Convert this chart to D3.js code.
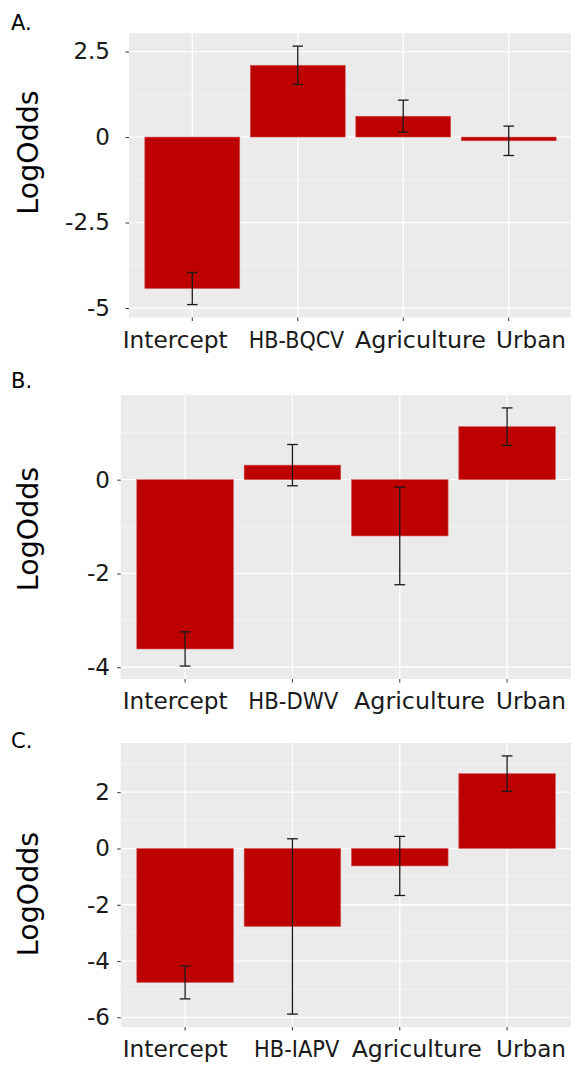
<!DOCTYPE html>
<html>
<head>
<meta charset="utf-8">
<script src="https://cdn.jsdelivr.net/npm/d3@7"></script>
<style>
  html, body { margin: 0; padding: 0; background: #fff; }
  svg { display: block; font-family: "DejaVu Sans", sans-serif; }
</style>
</head>
<body>
<svg id="chart" width="571" height="1065"></svg>
<script>
// Model terms (second term is the virus predictor of each model)
const panelTags = ["A.", "B.", "C."];
const virusTerms = ["HB-BQCV", "HB-DWV", "HB-IAPV"];
const sharedTerms = ["Intercept", null, "Agriculture", "Urban"];

// Log-odds estimates and their error half-widths, one pair per model
const estimatesA = [-4.43, 2.10, 0.61, -0.11];
const errorsA    = [0.47, 0.56, 0.47, 0.43];
const estimatesB = [-3.61, 0.31, -1.20, 1.13];
const errorsB    = [0.365, 0.44, 1.04, 0.40];
const estimatesC = [-4.76, -2.77, -0.62, 2.66];
const errorsC    = [0.585, 3.115, 1.05, 0.63];

// Axis breaks
const majorTicksA = [-5, -2.5, 0, 2.5];
const minorTicksA = [-3.75, -1.25, 1.25];
const majorTicksB = [-4, -2, 0];
const minorTicksB = [-3, -1, 1];
const majorTicksC = [-6, -4, -2, 0, 2];
const minorTicksC = [-5, -3, -1, 1, 3];

// Panel geometry and category-label placement (centre x, rendered width)
const panels = [
  { tag: panelTags[0], est: estimatesA, err: errorsA, major: majorTicksA, minor: minorTicksA, virus: virusTerms[0],
    box: { top: 33.2, bottom: 317.5, left: 129, right: 572 }, tagBase: 30, titleY: 152.5,
    labelX: [175.2, 296.5, 420.5, 531], labelW: [105, 95.5, 131, 70] },
  { tag: panelTags[1], est: estimatesB, err: errorsB, major: majorTicksB, minor: minorTicksB, virus: virusTerms[1],
    box: { top: 395, bottom: 679, left: 120.7, right: 571.5 }, tagBase: 388, titleY: 529,
    labelX: [175.2, 293.3, 419.5, 531], labelW: [105, 90, 131, 70] },
  { tag: panelTags[2], est: estimatesC, err: errorsC, major: majorTicksC, minor: minorTicksC, virus: virusTerms[2],
    box: { top: 743, bottom: 1027, left: 120.7, right: 571.5 }, tagBase: 748, titleY: 894,
    labelX: [175.2, 296.7, 416.7, 531], labelW: [105, 85.3, 130, 70] }
];

const svg = d3.select("#chart");
const barFill = "#bd0000";
const textCol = "#1a1a1a";

panels.forEach(p => {
  const terms = sharedTerms.map(t => t === null ? p.virus : t);
  const rows = terms.map((t, i) => ({ term: t, est: p.est[i], lo: p.est[i] - p.err[i], hi: p.est[i] + p.err[i] }));

  // y domain: data extent (including zero) with 5% padding on each side
  const lo = d3.min(rows, d => Math.min(d.lo, d.est, 0));
  const hi = d3.max(rows, d => Math.max(d.hi, d.est, 0));
  const pad = (hi - lo) * 0.05;
  const y = d3.scaleLinear().domain([lo - pad, hi + pad]).range([p.box.bottom, p.box.top]);
  const x = d3.scaleBand().domain(terms).range([p.box.left, p.box.right])
    .paddingInner(0.1).paddingOuter(0.15);
  const cx = t => x(t) + x.bandwidth() / 2;

  const g = svg.append("g");

  // panel background
  g.append("rect")
    .attr("x", p.box.left).attr("y", p.box.top)
    .attr("width", p.box.right - p.box.left).attr("height", p.box.bottom - p.box.top)
    .attr("fill", "#ebebeb");

  // minor and major grid
  g.selectAll(".minor").data(p.minor.filter(v => y(v) > p.box.top && y(v) < p.box.bottom)).join("line")
    .attr("x1", p.box.left).attr("x2", p.box.right)
    .attr("y1", d => y(d)).attr("y2", d => y(d))
    .attr("stroke", "#f7f7f7").attr("stroke-width", 0.7);
  g.selectAll(".major").data(p.major).join("line")
    .attr("x1", p.box.left).attr("x2", p.box.right)
    .attr("y1", d => y(d)).attr("y2", d => y(d))
    .attr("stroke", "#ffffff").attr("stroke-width", 1.3);
  g.selectAll(".vgrid").data(terms).join("line")
    .attr("x1", d => cx(d)).attr("x2", d => cx(d))
    .attr("y1", p.box.top).attr("y2", p.box.bottom)
    .attr("stroke", "#ffffff").attr("stroke-width", 1.3);

  // bars from zero to each estimate
  g.selectAll(".bar").data(rows).join("rect")
    .attr("x", d => x(d.term))
    .attr("width", x.bandwidth())
    .attr("y", d => Math.min(y(0), y(d.est)))
    .attr("height", d => Math.max(Math.abs(y(0) - y(d.est)), 0.5))
    .attr("fill", barFill)
    .attr("stroke", "#d55a5a").attr("stroke-width", 0.6);

  // error bars
  const capHalf = x.step() * 0.05;
  const eb = g.selectAll(".eb").data(rows).join("g")
    .attr("stroke", "#1a1a1a").attr("stroke-width", 1.3);
  eb.append("line")
    .attr("x1", d => cx(d.term)).attr("x2", d => cx(d.term))
    .attr("y1", d => y(d.hi)).attr("y2", d => y(d.lo));
  eb.append("line")
    .attr("x1", d => cx(d.term) - capHalf).attr("x2", d => cx(d.term) + capHalf)
    .attr("y1", d => y(d.hi)).attr("y2", d => y(d.hi));
  eb.append("line")
    .attr("x1", d => cx(d.term) - capHalf).attr("x2", d => cx(d.term) + capHalf)
    .attr("y1", d => y(d.lo)).attr("y2", d => y(d.lo));

  // y axis
  const yAxis = d3.axisLeft(y).tickValues(p.major).tickSize(3.5).tickPadding(15).tickFormat(d => String(d));
  const ya = g.append("g").attr("transform", `translate(${p.box.left},0)`).call(yAxis);
  ya.select(".domain").remove();
  ya.selectAll(".tick line").attr("stroke", "#333").attr("stroke-width", 1);
  ya.selectAll(".tick text")
    .attr("x", 110 - p.box.left)
    .attr("fill", textCol).style("font-size", "23px").style("font-family", "DejaVu Sans");

  // x axis
  const xAxis = d3.axisBottom(x).tickSize(3.5).tickPadding(6);
  const xa = g.append("g").attr("transform", `translate(0,${p.box.bottom})`).call(xAxis);
  xa.select(".domain").remove();
  xa.selectAll(".tick line").attr("stroke", "#333").attr("stroke-width", 1);
  xa.selectAll(".tick text")
    .attr("y", 30).attr("dy", null)
    .attr("x", (d, i) => p.labelX[i] - cx(d))
    .attr("textLength", (d, i) => p.labelW[i])
    .attr("lengthAdjust", "spacingAndGlyphs")
    .attr("fill", textCol).style("font-size", "23px").style("font-family", "DejaVu Sans");

  // axis title
  g.append("text")
    .attr("transform", `translate(38,${p.titleY}) rotate(-90)`)
    .attr("text-anchor", "middle")
    .attr("fill", "#000")
    .style("font-size", "28.5px")
    .text("LogOdds");

  // panel tag
  g.append("text")
    .attr("x", 11).attr("y", p.tagBase)
    .attr("fill", "#000")
    .style("font-size", "21px")
    .text(p.tag);
});
</script>
</body>
</html>
